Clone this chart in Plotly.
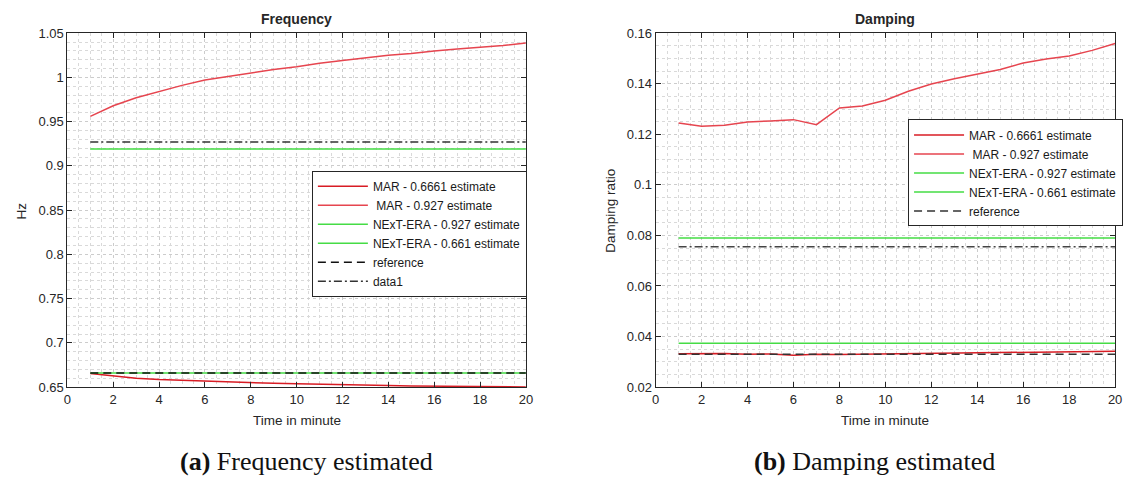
import plotly.graph_objects as go

# ---- data -------------------------------------------------------------
minutes = list(range(1, 21))

# Frequency estimates (Hz)
freq_mar_6661 = [0.6655, 0.6625, 0.6600, 0.6585, 0.6575, 0.6565, 0.6558, 0.6550, 0.6543, 0.6537,
                 0.6530, 0.6525, 0.6520, 0.6517, 0.6513, 0.6510, 0.6508, 0.6506, 0.6504, 0.6502]
freq_mar_927 = [0.956, 0.968, 0.977, 0.984, 0.991, 0.997, 1.001, 1.005, 1.009, 1.012,
                1.016, 1.019, 1.022, 1.025, 1.027, 1.030, 1.032, 1.034, 1.036, 1.039]
freq_era_927 = 0.919
freq_era_661 = 0.666
freq_reference = 0.666
freq_data1 = 0.927

# Damping ratio estimates
damp_mar_6661 = [0.0332, 0.0333, 0.0333, 0.0330, 0.0331, 0.0326, 0.0330, 0.0329, 0.0330, 0.0331,
                 0.0333, 0.0335, 0.0336, 0.0337, 0.0337, 0.0338, 0.0338, 0.0339, 0.0340, 0.0342]
damp_mar_927 = [0.1245, 0.1232, 0.1236, 0.1249, 0.1253, 0.1258, 0.1238, 0.1304, 0.1312, 0.1335,
                0.1370, 0.1399, 0.1420, 0.1438, 0.1456, 0.1482, 0.1498, 0.1510, 0.1532, 0.1559]
damp_era_927 = 0.0790
damp_era_661 = 0.0373
damp_reference = 0.0330
damp_data1 = 0.0755

x_ticks = list(range(0, 21, 2))
freq_ticks = [0.65, 0.7, 0.75, 0.8, 0.85, 0.9, 0.95, 1.0, 1.05]
freq_tick_text = ["0.65", "0.7", "0.75", "0.8", "0.85", "0.9", "0.95", "1", "1.05"]
damp_ticks = [0.02, 0.04, 0.06, 0.08, 0.1, 0.12, 0.14, 0.16]
damp_tick_text = ["0.02", "0.04", "0.06", "0.08", "0.1", "0.12", "0.14", "0.16"]

# ---- styling ----------------------------------------------------------
W, H = 1135, 494
RED_DARK = "#d81c24"
RED_LIGHT = "#e6454f"
GREEN = "#45dc45"
DASH = "8px,5px"
DASHDOT = "8px,3px,2px,3px"
FONT = "Liberation Sans, Arial, sans-serif"
AX = "#262626"

left_px = (64, 527)
right_px = (658, 1122)
top_px, bottom_px = 27, 392


def px_x(p):
    return p / W


def px_y(p):
    return 1 - p / H


span = [minutes[0], minutes[-1]]

fig = go.Figure()


def line(x, y, name, color, xa, ya, legend, dash="solid", width=1.5, show=True):
    fig.add_trace(go.Scatter(
        x=x, y=y, name=name, mode="lines",
        line=dict(color=color, width=width, dash=dash),
        xaxis=xa, yaxis=ya, legend=legend, showlegend=show,
        hoverinfo="skip"))


# Frequency panel
line(minutes, freq_mar_6661, "MAR - 0.6661 estimate", RED_DARK, "x", "y", "legend")
line(minutes, freq_mar_927, " MAR - 0.927 estimate", RED_LIGHT, "x", "y", "legend")
line(span, [freq_era_927] * 2, "NExT-ERA - 0.927 estimate", GREEN, "x", "y", "legend")
line(span, [freq_era_661] * 2, "NExT-ERA - 0.661 estimate", GREEN, "x", "y", "legend")
line(span, [freq_reference] * 2, "reference", "#111111", "x", "y", "legend", dash=DASH)
line(span, [freq_data1] * 2, "data1", "#333333", "x", "y", "legend", dash=DASHDOT)

# Damping panel
line(minutes, damp_mar_6661, "MAR - 0.6661 estimate", RED_DARK, "x2", "y2", "legend2")
line(minutes, damp_mar_927, " MAR - 0.927 estimate", RED_LIGHT, "x2", "y2", "legend2")
line(span, [damp_era_927] * 2, "NExT-ERA - 0.927 estimate", GREEN, "x2", "y2", "legend2")
line(span, [damp_era_661] * 2, "NExT-ERA - 0.661 estimate", GREEN, "x2", "y2", "legend2")
line(span, [damp_reference] * 2, "reference", "#333333", "x2", "y2", "legend2", dash=DASH)
line(span, [damp_data1] * 2, "data1", "#444444", "x2", "y2", "legend2", dash=DASHDOT, show=False)


def xaxis(dom, anchor):
    return dict(
        domain=[px_x(dom[0]), px_x(dom[1])], anchor=anchor, range=[0, 20],
        tickvals=x_ticks, ticks="inside", ticklen=5, tickcolor=AX,
        showline=True, linecolor=AX, linewidth=1, mirror="ticks",
        showgrid=True, gridcolor="#cccccc", griddash="dot", gridwidth=1,
        minor=dict(dtick=0.5, showgrid=True, gridcolor="#d9d9d9", griddash="dot", ticks=""),
        zeroline=False, tickfont=dict(family=FONT, size=13, color=AX), fixedrange=True)


def yaxis(anchor, rng, vals, text, minor):
    return dict(
        domain=[px_y(bottom_px), px_y(top_px)], anchor=anchor, range=rng,
        tickvals=vals, ticktext=text, ticks="inside", ticklen=5, tickcolor=AX,
        showline=True, linecolor=AX, linewidth=1, mirror="ticks",
        showgrid=True, gridcolor="#cccccc", griddash="dot", gridwidth=1,
        minor=dict(dtick=minor, showgrid=True, gridcolor="#d9d9d9", griddash="dot", ticks=""),
        zeroline=False, tickfont=dict(family=FONT, size=13, color=AX), fixedrange=True)


legend_style = dict(
    bgcolor="white", bordercolor="#262626", borderwidth=1,
    font=dict(family=FONT, size=12, color="#1a1a1a"),
    xanchor="right", yanchor="top", tracegroupgap=0, itemwidth=50,
    traceorder="normal")

fig.update_layout(
    width=W, height=H, margin=dict(l=0, r=0, t=0, b=0),
    paper_bgcolor="white", plot_bgcolor="white",
    xaxis=xaxis(left_px, "y"),
    yaxis=yaxis("x", [0.65, 1.05], freq_ticks, freq_tick_text, 0.01),
    xaxis2=xaxis(right_px, "y2"),
    yaxis2=yaxis("x2", [0.02, 0.16], damp_ticks, damp_tick_text, 0.005),
    legend=dict(legend_style, x=px_x(left_px[1] + 1), y=px_y(169)),
    legend2=dict(legend_style, x=px_x(right_px[1] + 8), y=px_y(116)),
)

annotations = []


def text(x, y, s, size, bold=False, angle=0, family=FONT, color=AX):
    annotations.append(dict(
        x=px_x(x), y=px_y(y), xref="paper", yref="paper", text=s, showarrow=False,
        xanchor="center", yanchor="middle", textangle=angle,
        font=dict(family=family, size=size, color=color)))


cx_left = (left_px[0] + left_px[1]) / 2
cx_right = (right_px[0] + right_px[1]) / 2
text(cx_left, 12, "<b>Frequency</b>", 14)
text(cx_right, 12, "<b>Damping</b>", 14)
text(cx_left, 426, "Time in minute", 13.5)
text(cx_right, 426, "Time in minute", 13.5)
text(18, 210, "Hz", 13.5, angle=-90)
text(613, 210, "Damping ratio", 13.5, angle=-90)
SERIF = "Liberation Serif, Times New Roman, serif"
text(305, 469, "<b>(a)</b> Frequency estimated", 26, family=SERIF, color="#111111")
text(879, 469, "<b>(b)</b> Damping estimated", 26, family=SERIF, color="#111111")
fig.update_layout(annotations=annotations)

fig.write_html("out.html")
